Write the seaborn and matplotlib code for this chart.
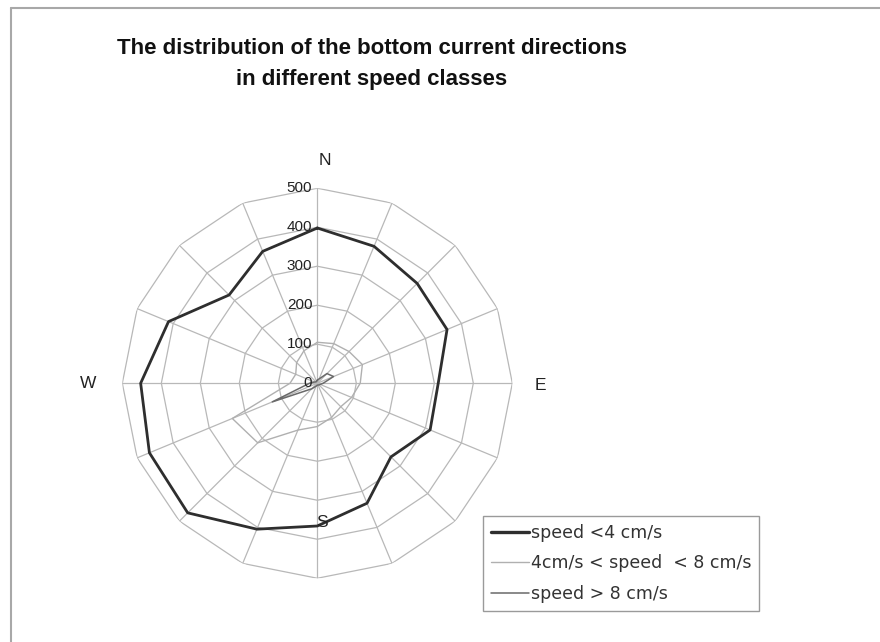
import numpy as np
import pandas as pd
import matplotlib
matplotlib.use("Agg")
import matplotlib.pyplot as plt
from matplotlib.lines import Line2D
import seaborn as sns

# Sixteen compass sectors, clockwise from north
directions = ["N", "NNE", "NE", "ENE", "E", "ESE", "SE", "SSE",
              "S", "SSW", "SW", "WSW", "W", "WNW", "NW", "NNW"]

# Number of records per direction in each speed class
slow = [398, 380, 362, 360, 310, 313, 267, 333, 366, 405, 470, 466, 453, 413, 320, 366]
medium = [105, 110, 115, 125, 110, 95, 85, 95, 111, 130, 216, 236, 70, 60, 75, 90]
fast = [8, 12, 35, 45, 15, 8, 6, 5, 5, 8, 20, 125, 20, 8, 5, 5]

series_names = ["speed <4 cm/s", "4cm/s < speed  < 8 cm/s", "speed > 8 cm/s"]
ring_values = [0, 100, 200, 300, 400, 500]
compass_labels = {"N": 0, "E": 4, "S": 8, "W": 12}

title_lines = ["The distribution of the bottom current directions",
               "in different speed classes"]

sns.set_theme(style="white")
plt.rcParams["font.family"] = ["Liberation Sans", "DejaVu Sans"]

fig = plt.figure(figsize=(8.8, 6.42), dpi=100)
fig.patch.set_facecolor("white")

ax = fig.add_axes([0.139, 0.0993, 0.4432, 0.6075], projection="polar")
ax.set_theta_zero_location("N")
ax.set_theta_direction(-1)
ax.set_ylim(0, ring_values[-1])
ax.grid(False)
ax.set_xticks([])
ax.set_yticks([])
ax.spines["polar"].set_visible(False)
ax.patch.set_alpha(0)

n = len(directions)
theta = np.arange(n) * 2 * np.pi / n
closed_theta = np.append(theta, theta[0])

grid_color = "#b8b8b8"
# polygonal rings and spokes
for v in ring_values[1:]:
    ax.plot(closed_theta, [v] * (n + 1), color=grid_color, lw=0.9, zorder=1)
for t in theta:
    ax.plot([t, t], [0, ring_values[-1]], color=grid_color, lw=0.9, zorder=1)

# radial value labels along the north spoke
for v in ring_values:
    ax.annotate(str(v), xy=(0, v), xytext=(-5, 0), textcoords="offset pixels",
                ha="right", va="center", fontsize=11, color="#222222", zorder=5)

# compass labels
label_offsets = {"N": (8, 28), "E": (28, -2), "S": (5, 56), "W": (-34, 0)}
for lab, idx in compass_labels.items():
    ax.annotate(lab, xy=(theta[idx], ring_values[-1]), xytext=label_offsets[lab],
                textcoords="offset pixels", ha="center", va="center",
                fontsize=12.5, color="#222222", zorder=6)

styles = [
    (slow, "#2e2e2e", 2.0, 4),
    (medium, "#b0b0b0", 1.0, 2),
    (fast, "#6a6a6a", 1.1, 3),
]
handles = []
for name, (vals, col, lw, z) in zip(series_names, styles):
    df = pd.DataFrame({"theta": closed_theta, "value": list(vals) + [vals[0]]})
    sns.lineplot(data=df, x="theta", y="value", sort=False, estimator=None,
                 color=col, linewidth=lw, ax=ax, zorder=z)
    handles.append(Line2D([], [], color=col, linewidth=lw + 0.4 if lw > 1.5 else lw))
ax.set_xlabel("")
ax.set_ylabel("")

leg = fig.legend(handles, series_names, loc="upper left",
                 bbox_to_anchor=(0.549, 0.196), frameon=True, fancybox=False,
                 edgecolor="#9a9a9a", facecolor="white", framealpha=1,
                 prop={"family": "DejaVu Sans", "size": 12.5},
                 handlelength=2.2, handletextpad=0.1, labelspacing=0.72,
                 borderpad=0.45, borderaxespad=0)
leg.get_frame().set_linewidth(1.0)
for txt in leg.get_texts():
    txt.set_color("#333333")

# title
fig.text(372 / 880, 1 - 48 / 642, title_lines[0], ha="center", va="center",
         fontsize=16, fontweight="bold", color="#111111")
fig.text(372 / 880, 1 - 80 / 642, title_lines[1], ha="center", va="center",
         fontsize=16, fontweight="bold", color="#111111")

# chart area frame edges
fig.add_artist(Line2D([10.5 / 880, 10.5 / 880], [0, 1 - 8 / 642],
                      transform=fig.transFigure, color="#a8a8a8", lw=1.5))
fig.add_artist(Line2D([10.5 / 880, 1], [1 - 8 / 642, 1 - 8 / 642],
                      transform=fig.transFigure, color="#a8a8a8", lw=1.5))

fig.savefig("out.png", dpi=100)
